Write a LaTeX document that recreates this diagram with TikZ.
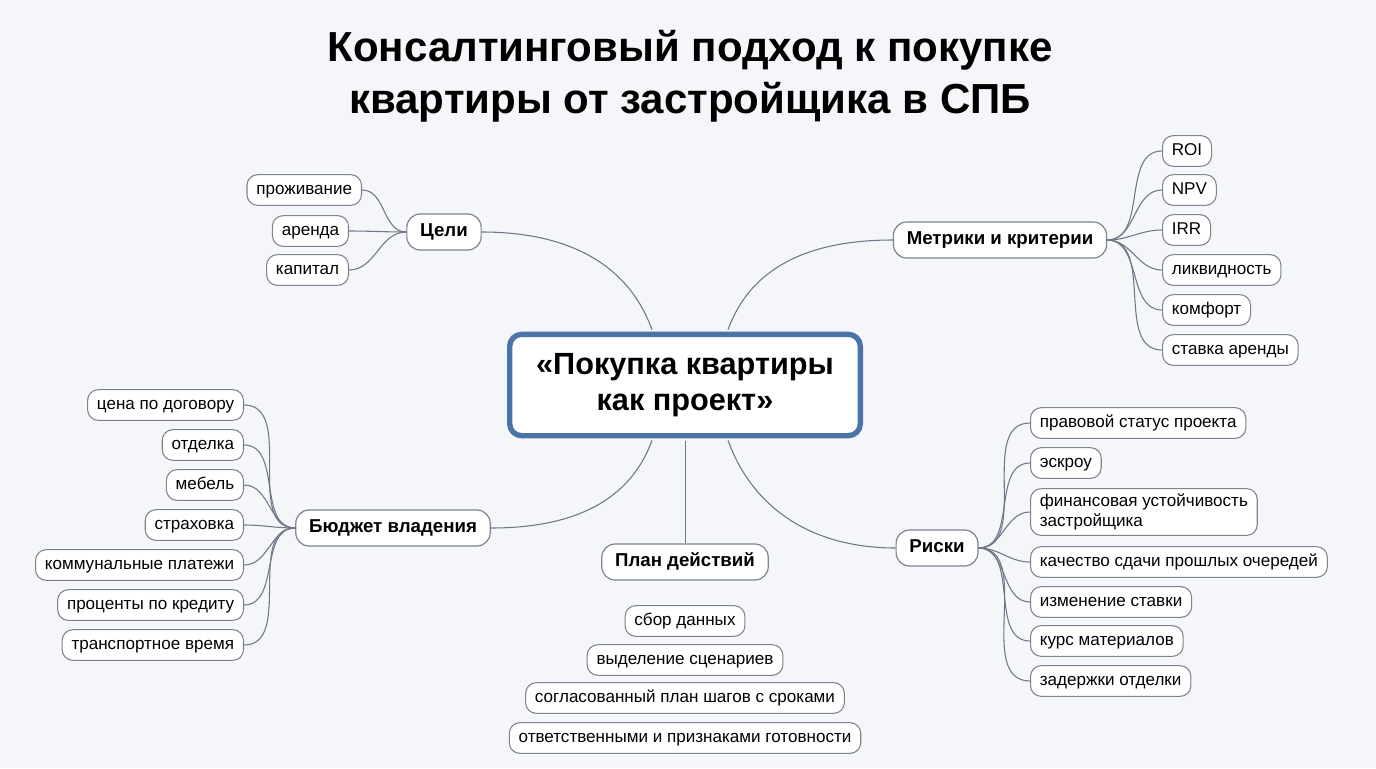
\documentclass[tikz,border=0pt]{standalone}
\usepackage{fontspec}
\setmainfont{Liberation Sans}
\definecolor{bg}{RGB}{244,246,249}
\definecolor{lnc}{RGB}{110,120,135}
\definecolor{bdc}{RGB}{125,132,142}
\definecolor{cblue}{RGB}{74,115,168}
\begin{document}
\begin{tikzpicture}[x=0.75pt,y=-0.75pt,
  leaf/.style={draw=bdc,fill=white,rounded corners=8pt,line width=0.8pt,font=\fontsize{12.8}{15}\selectfont,minimum height=23pt,inner xsep=7pt,text height=9.5pt,text depth=2.5pt},
  hub/.style={draw=bdc,fill=white,rounded corners=10pt,line width=0.9pt,font=\fontsize{14}{16}\selectfont\bfseries,minimum height=27pt,inner xsep=10pt,text height=10pt,text depth=3pt},
  con/.style={draw=lnc,line width=0.8pt}]
\fill[bg] (0,0) rectangle (1376,768);
\useasboundingbox (0,0) rectangle (1376,768);
\node[font=\fontsize{31.5}{39}\selectfont\bfseries,align=center] (title) at (690,76) {Консалтинговый подход к покупке\\квартиры от застройщика в СПБ};
\node[draw=cblue,line width=4pt,fill=white,rounded corners=9pt,minimum width=263pt,minimum height=76pt,align=center,font=\fontsize{23}{27}\selectfont\bfseries] (c) at (685,385) {«Покупка квартиры\\как проект»};
\node[hub] (g) at (444,232) {Цели};
\node[hub] (m) at (1000,240) {Метрики и критерии};
\node[hub] (b) at (393,528) {Бюджет владения};
\node[hub] (p) at (685,562) {План действий};
\node[hub] (r) at (937,548) {Риски};
\draw[con] (c.north west)++(145,-2) to[out=110,in=0] (g.east);
\draw[con] (c.north east)++(-135,-2) to[out=70,in=180] (m.west);
\draw[con] (c.south west)++(145,2) to[out=-110,in=0] (b.east);
\draw[con] (c.south east)++(-135,2) to[out=-70,in=180] (r.west);
\draw[con,line width=0.6pt] (c.south)++(0,3) -- (p.north);
\node[leaf,anchor=east] (g1) at (362,190) {проживание};
\node[leaf,anchor=east] (g2) at (349,231) {аренда};
\node[leaf,anchor=east] (g3) at (349,270) {капитал};
\foreach \n in {g1,g2,g3}{\draw[con] (g.west) to[out=180,in=0] (\n.east);}
\node[leaf,anchor=west] (m1) at (1162,151) {ROI};
\node[leaf,anchor=west] (m2) at (1162,190) {NPV};
\node[leaf,anchor=west] (m3) at (1162,230) {IRR};
\node[leaf,anchor=west] (m4) at (1162,270) {ликвидность};
\node[leaf,anchor=west] (m5) at (1162,310) {комфорт};
\node[leaf,anchor=west] (m6) at (1162,350) {ставка аренды};
\foreach \n in {m1,m2,m3,m4,m5,m6}{\draw[con] (m.east) to[out=0,in=180] (\n.west);}
\node[leaf,anchor=east] (b1) at (244,405) {цена по договору};
\node[leaf,anchor=east] (b2) at (244,445) {отделка};
\node[leaf,anchor=east] (b3) at (244,485) {мебель};
\node[leaf,anchor=east] (b4) at (244,525) {страховка};
\node[leaf,anchor=east] (b5) at (244,565) {коммунальные платежи};
\node[leaf,anchor=east] (b6) at (244,605) {проценты по кредиту};
\node[leaf,anchor=east] (b7) at (244,645) {транспортное время};
\foreach \n in {b1,b2,b3,b4,b5,b6,b7}{\draw[con] (b.west) to[out=180,in=0] (\n.east);}
\node[leaf] (p1) at (685,621) {сбор данных};
\node[leaf] (p2) at (685,660) {выделение сценариев};
\node[leaf] (p3) at (685,698) {согласованный план шагов с сроками};
\node[leaf] (p4) at (685,738) {ответственными и признаками готовности};
\node[leaf,anchor=west] (r1) at (1030,423) {правовой статус проекта};
\node[leaf,anchor=west] (r2) at (1030,463) {эскроу};
\node[leaf,anchor=west,align=left,minimum height=35pt,text height=,text depth=] (r3) at (1030,512) {финансовая устойчивость\\застройщика};
\node[leaf,anchor=west] (r4) at (1030,562) {качество сдачи прошлых очередей};
\node[leaf,anchor=west] (r5) at (1030,602) {изменение ставки};
\node[leaf,anchor=west] (r6) at (1030,641) {курс материалов};
\node[leaf,anchor=west] (r7) at (1030,681) {задержки отделки};
\foreach \n in {r1,r2,r3,r4,r5,r6,r7}{\draw[con] (r.east) to[out=0,in=180] (\n.west);}
\end{tikzpicture}
\end{document}
